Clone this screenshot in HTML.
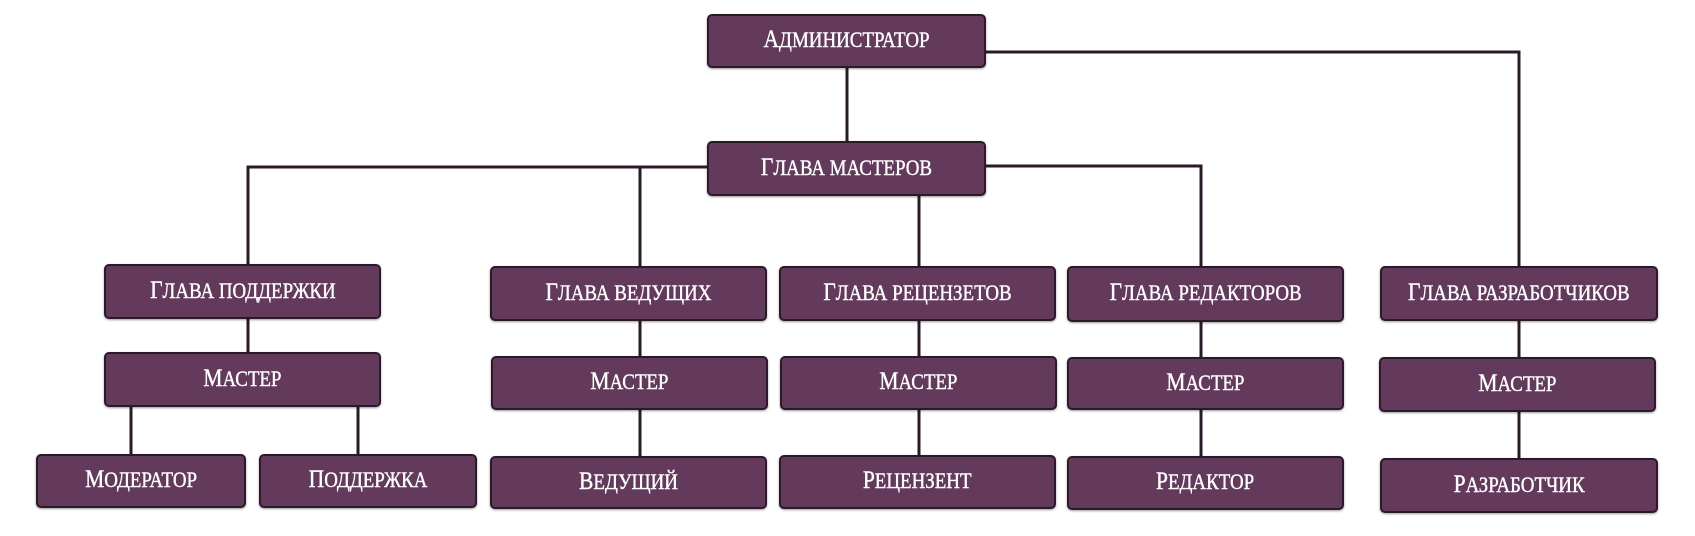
<!DOCTYPE html>
<html><head><meta charset="utf-8"><style>
body{margin:0;width:1695px;height:536px;background:#fff;position:relative;overflow:hidden;font-family:"Liberation Serif","DejaVu Serif",serif;}
.b{position:absolute;box-sizing:border-box;background:#633a5c;border:2px solid #2b1b29;border-radius:5px;color:#fff;display:flex;align-items:center;justify-content:center;font-size:22px;text-transform:uppercase;box-shadow:0 1px 2px rgba(0,0,0,.4);}
.b span{display:inline-block;transform:scaleX(0.86);white-space:nowrap;margin-top:-2px;-webkit-text-stroke:0.4px #fff}
.b span::first-letter{font-size:25px}
svg{position:absolute;left:0;top:0}
</style></head><body>
<svg width="1695" height="536"><g stroke="#2a1a28" stroke-width="3" fill="none">
<path d="M847 68V141"/>
<path d="M985 52H1519V266"/>
<path d="M708 167H248V264"/>
<path d="M985 166H1201V266"/>
<path d="M640 167V266"/><path d="M919 196V266"/>
<path d="M248 319V352"/><path d="M131 407V454"/><path d="M358 407V454"/>
<path d="M640 321V356"/><path d="M640 410V456"/>
<path d="M919 321V356"/><path d="M919 410V455"/>
<path d="M1201 322V357"/><path d="M1201 410V456"/>
<path d="M1519 321V357"/><path d="M1519 412V458"/>
</g></svg>
<div class="b" style="left:707px;top:14px;width:279px;height:54px"><span>Администратор</span></div>
<div class="b" style="left:707px;top:141px;width:279px;height:55px"><span>Глава мастеров</span></div>
<div class="b" style="left:104px;top:264px;width:277px;height:55px"><span>Глава поддержки</span></div>
<div class="b" style="left:104px;top:352px;width:277px;height:55px"><span>Мастер</span></div>
<div class="b" style="left:36px;top:454px;width:210px;height:54px"><span>Модератор</span></div>
<div class="b" style="left:259px;top:454px;width:218px;height:54px"><span>Поддержка</span></div>
<div class="b" style="left:490px;top:266px;width:277px;height:55px"><span>Глава ведущих</span></div>
<div class="b" style="left:491px;top:356px;width:277px;height:54px"><span>Мастер</span></div>
<div class="b" style="left:490px;top:456px;width:277px;height:53px"><span>Ведущий</span></div>
<div class="b" style="left:779px;top:266px;width:277px;height:55px"><span>Глава рецензетов</span></div>
<div class="b" style="left:780px;top:356px;width:277px;height:54px"><span>Мастер</span></div>
<div class="b" style="left:779px;top:455px;width:277px;height:54px"><span>Рецензент</span></div>
<div class="b" style="left:1067px;top:266px;width:277px;height:56px"><span>Глава редакторов</span></div>
<div class="b" style="left:1067px;top:357px;width:277px;height:53px"><span>Мастер</span></div>
<div class="b" style="left:1067px;top:456px;width:277px;height:54px"><span>Редактор</span></div>
<div class="b" style="left:1380px;top:266px;width:278px;height:55px"><span>Глава разработчиков</span></div>
<div class="b" style="left:1379px;top:357px;width:277px;height:55px"><span>Мастер</span></div>
<div class="b" style="left:1380px;top:458px;width:278px;height:55px"><span>Разработчик</span></div>
</body></html>
